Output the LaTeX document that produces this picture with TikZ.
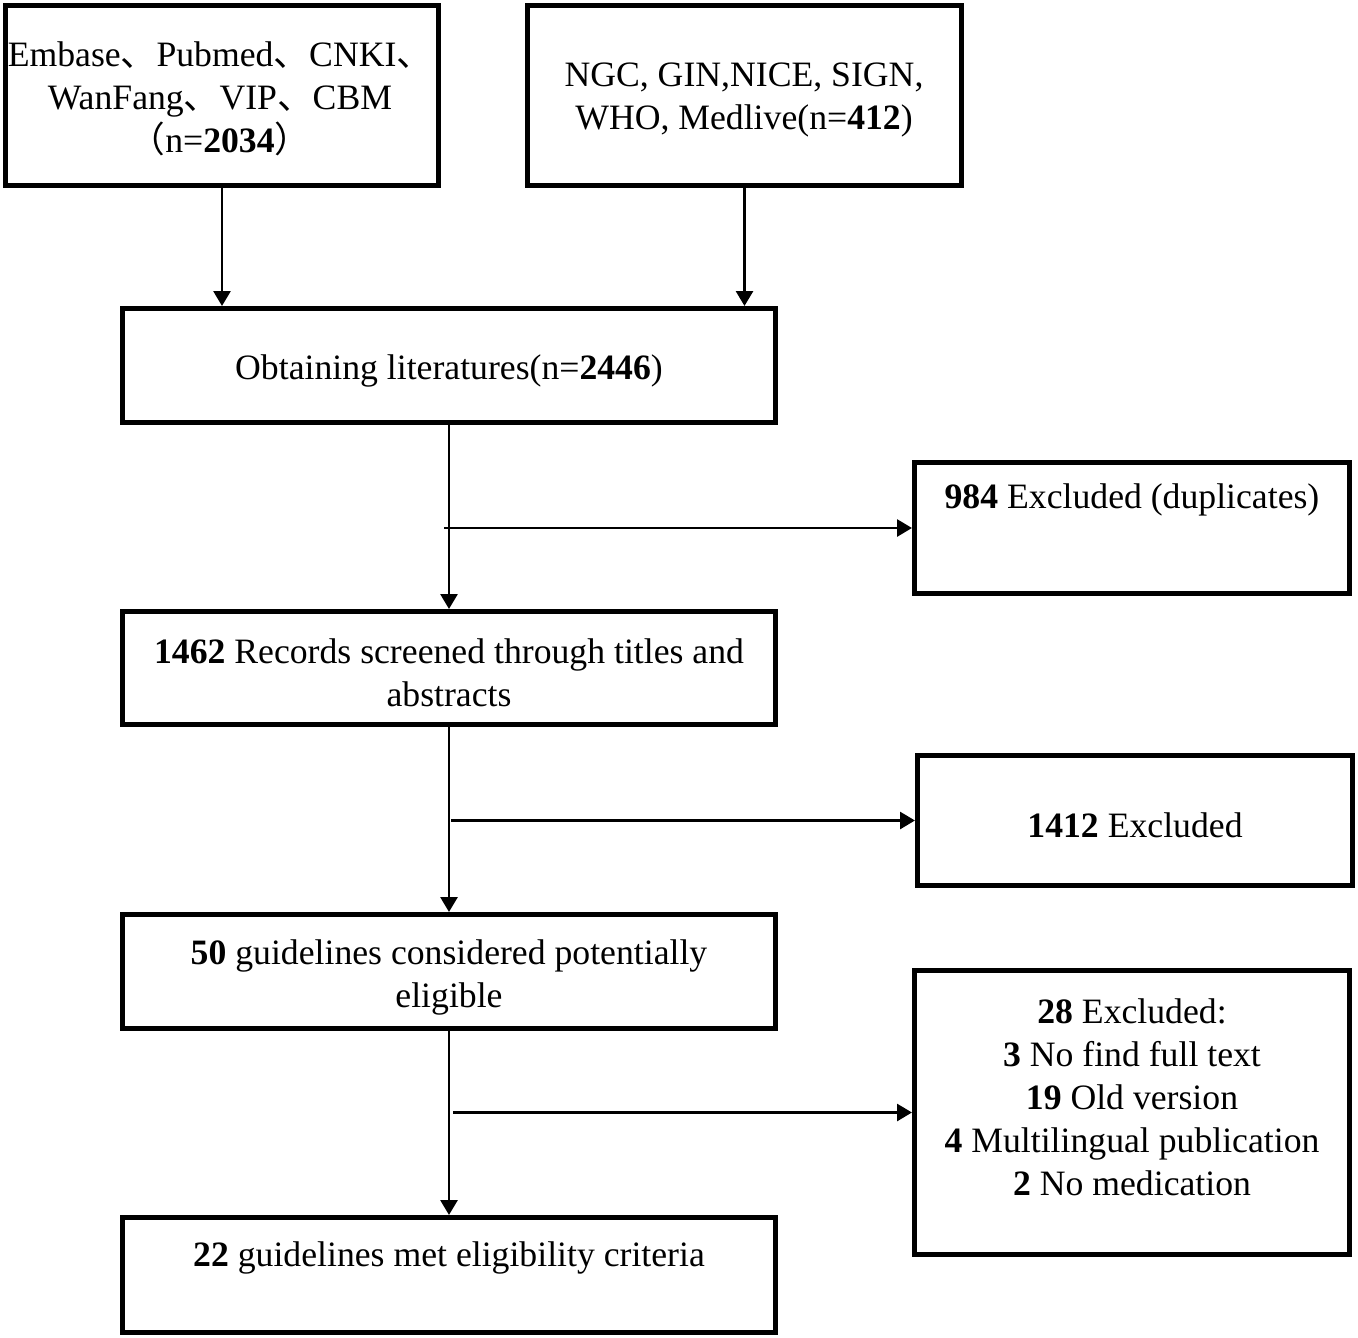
\documentclass[tikz,border=0pt]{standalone}
\usepackage{fontspec}
\setmainfont{Liberation Serif}
\newfontfamily\cjk{Noto Sans CJK SC}
\usetikzlibrary{arrows.meta,calc}
\newcommand{\dun}{{\cjk 、}}
\begin{document}
\begin{tikzpicture}[x=1pt,y=-1pt,
  box/.style={draw, line width=5pt, minimum width=653pt, inner sep=0pt},
  sidebox/.style={draw, line width=5pt, minimum width=435pt, inner sep=0pt},
  txt/.style={align=center, inner sep=0pt, font=\fontsize{35.7}{43}\selectfont},
  arr/.style={line width=2.8pt, -{Triangle[length=15pt,width=17pt]}}]
\useasboundingbox (0,0) rectangle (1358,1338);
% boxes
\node[sidebox, minimum width=433pt, minimum height=180pt] (A) at (222,95.5) {};
\node[sidebox, minimum width=434pt, minimum height=180pt] (B) at (744.5,95.5) {};
\node[box, minimum height=114pt] (C) at (449,365.5) {};
\node[sidebox, minimum height=131pt] (D) at (1132,528) {};
\node[box, minimum height=113pt] (E) at (449,668) {};
\node[sidebox, minimum height=130pt] (F) at (1135,820.5) {};
\node[box, minimum height=114pt] (G) at (449,971.5) {};
\node[sidebox, minimum height=284pt] (H) at (1132,1112.5) {};
\node[box, minimum height=115pt] (I) at (449,1275) {};
% texts
\node[txt] (tA) at (220,99) {Embase\dun Pubmed\dun CNKI\dun\\WanFang\dun VIP\dun CBM\\{\cjk （}n=\textbf{2034}{\cjk ）}};
\node[txt] (tB) at (744,100) {NGC, GIN,NICE, SIGN,\\WHO, Medlive(n=\textbf{412})};
\node[txt] (tC) at (449,371) {Obtaining literatures(n=\textbf{2446})};
\node[txt] (tD) at (1132,500) {\textbf{984} Excluded (duplicates)};
\node[txt] (tE) at (449,673) {\textbf{1462} Records screened through titles and\\abstracts};
\node[txt] (tF) at (1135,825) {\textbf{1412} Excluded};
\node[txt] (tG) at (449,977) {\textbf{50} guidelines considered potentially\\eligible};
\node[txt] (tH) at (1132,1097) {\textbf{28} Excluded:\\\textbf{3} No find full text\\\textbf{19} Old version\\\textbf{4} Multilingual publication\\\textbf{2} No medication};
\node[txt] (tI) at (449,1258) {\textbf{22} guidelines met eligibility criteria};
% connectors
\draw[arr] (A.south) -- (A.south |- C.north);
\draw[arr] (B.south) -- (B.south |- C.north);
\draw[arr] (C.south) -- (E.north);
\draw[arr] (E.south) -- (G.north);
\draw[arr] (G.south) -- (I.north);
\coordinate (jD) at ($(C.south |- D.west)+(-5,0)$);
\coordinate (jF) at ($(E.south |- F.west)+(2,0)$);
\coordinate (jH) at ($(G.south |- H.west)+(4,0)$);
\draw[arr] (jD) -- (D.west);
\draw[arr] (jF) -- (F.west);
\draw[arr] (jH) -- (H.west);
\end{tikzpicture}
\end{document}
